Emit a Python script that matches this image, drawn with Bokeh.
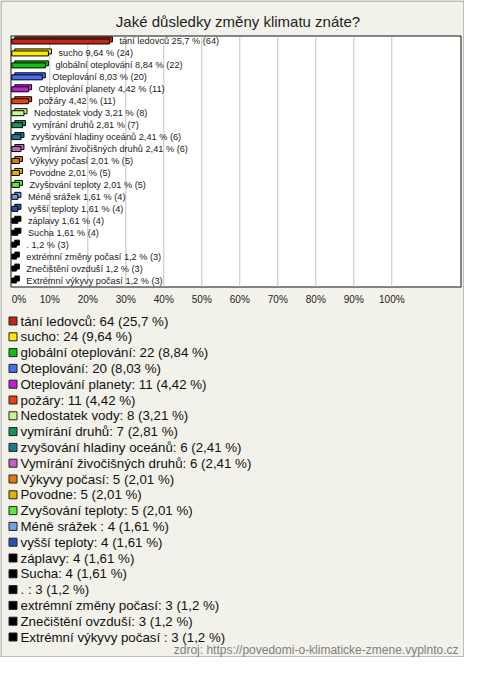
from bokeh.plotting import figure
from bokeh.models import Range1d, ColumnDataSource
from bokeh.core.properties import value
from bokeh.embed import file_html
from bokeh.resources import INLINE

# ---------------- data ----------------
title = "Jaké důsledky změny klimatu znáte?"
categories = [
    "tání ledovců", "sucho", "globální oteplování", "Oteplování",
    "Oteplování planety", "požáry", "Nedostatek vody", "vymírání druhů",
    "zvyšování hladiny oceánů", "Vymírání živočišných druhů", "Výkyvy počasí",
    "Povodne", "Zvyšování teploty", "Méně srážek ", "vyšší teploty", "záplavy",
    "Sucha", ". ", "extrémní změny počasí", "Znečištění ovzduší",
    "Extrémní výkyvy počasí ",
]
counts = [64, 24, 22, 20, 11, 11, 8, 7, 6, 6, 5, 5, 5, 4, 4, 4, 4, 3, 3, 3, 3]
percents = [25.7, 9.64, 8.84, 8.03, 4.42, 4.42, 3.21, 2.81, 2.41, 2.41, 2.01,
            2.01, 2.01, 1.61, 1.61, 1.61, 1.61, 1.2, 1.2, 1.2, 1.2]
colors = [
    "#c0261a", "#ffea00", "#12c012", "#4a6ef2", "#c21ed4", "#e44412",
    "#c8f890", "#13955e", "#1f7a8c", "#c064c0", "#e8780c", "#e6b200",
    "#5ee83e", "#72a0e2", "#2a52b8", "#000000", "#000000", "#000000",
    "#000000", "#000000", "#000000",
]
ticks = [0, 10, 20, 30, 40, 50, 60, 70, 80, 90, 100]
tick_labels = ["0%", "10%", "20%", "30%", "40%", "50%", "60%", "70%", "80%", "90%", "100%"]
source_text = "zdroj: https://povedomi-o-klimaticke-zmene.vyplnto.cz"

# ---------------- layout (canvas pixels) ----------------
W, H = 464, 657
BOX_L, BOX_R, BOX_T, BOX_B = 10.5, 460.5, 35.5, 286.5
X0, PX_PCT = 11.3, 3.8               # 0 % position, pixels per percent
ROW0, ROW_H = 35.0, 251.0 / 21       # bar rows
LEG_Y0, LEG_DY = 320.5, 15.8
BG = "#f2f1ea"
FONT = value("Liberation Sans")

p = figure(width=W, height=H, output_backend="svg", toolbar_location=None,
           x_axis_type=None, y_axis_type=None,
           x_range=Range1d(0, W), y_range=Range1d(H, 0),
           min_border=0, min_border_left=0, min_border_right=0,
           min_border_top=0, min_border_bottom=0)
p.outline_line_color = None
p.background_fill_color = BG
p.border_fill_color = BG
p.extra_x_ranges = {"pct": Range1d((0 - X0) / PX_PCT, (W - X0) / PX_PCT)}
p.extra_y_ranges = {"idx": Range1d((H - ROW0) / ROW_H - 0.5, (0 - ROW0) / ROW_H - 0.5)}

# outer frame
p.quad(left=[0.5], right=[W - 0.5], top=[0.5], bottom=[H - 0.5],
       fill_color=None, line_color="#8a8a8a", line_width=1)

# title
p.text(x=[237.5], y=[21], text=[title], text_align="center", text_baseline="middle",
       text_font=FONT, text_font_size="15px", text_color="#222222")

# plot box
p.quad(left=[BOX_L], right=[BOX_R], top=[BOX_T], bottom=[BOX_B],
       fill_color="white", line_color="#111111", line_width=1)

# grid lines
p.segment(x0=ticks[1:], x1=ticks[1:], y0=BOX_T + 0.5, y1=BOX_B - 0.5,
          x_range_name="pct", line_color="#c4c4c4", line_width=1)

# bars (pseudo-3D: back face + front face)
idx = list(range(len(categories)))
dx = 3.0 / PX_PCT
dy = 2.0 / ROW_H
bh = 5.0 / ROW_H
bars = ColumnDataSource(dict(
    y=idx, yb=[i - dy for i in idx], right=percents,
    rightb=[v + dx for v in percents], color=colors,
    label=[f"{c} {str(v).replace('.', ',')} % ({n})" for c, v, n in zip(categories, percents, counts)],
))
p.hbar(y="yb", left=dx, right="rightb", height=bh, source=bars,
       fill_color="color", line_color="black", line_width=1,
       x_range_name="pct", y_range_name="idx")
p.hbar(y="y", left=0, right="right", height=bh, source=bars,
       fill_color="color", line_color="black", line_width=1,
       x_range_name="pct", y_range_name="idx")
p.text(x="right", y="y", text="label", source=bars, x_offset=10,
       x_range_name="pct", y_range_name="idx",
       text_font=FONT, text_font_size="9.2px", text_baseline="middle",
       text_color="#222222")

# x tick labels
p.text(x=ticks[:1], y=299, text=tick_labels[:1], x_range_name="pct",
       text_align="left", text_baseline="middle",
       text_font=FONT, text_font_size="10px", text_color="#222222")
p.text(x=ticks[1:], y=299, text=tick_labels[1:], x_range_name="pct",
       text_align="center", text_baseline="middle",
       text_font=FONT, text_font_size="10px", text_color="#222222")

# legend list
leg = ColumnDataSource(dict(
    y=[LEG_Y0 + LEG_DY * i for i in idx], color=colors,
    label=[f"{c}: {n} ({str(v).replace('.', ',')} %)" for c, v, n in zip(categories, percents, counts)],
))
p.scatter(x=12.5, y="y", source=leg, marker="square", size=8,
          fill_color="color", line_color="#222222", line_width=1)
p.text(x=20, y="y", text="label", source=leg, text_baseline="middle",
       text_font=FONT, text_font_size="13.3px", text_color="#111111")

# source note
p.text(x=[458], y=[649], text=[source_text], text_align="right", text_baseline="middle",
       text_font=FONT, text_font_size="12px", text_color="#808080")

open("out.html", "w").write(file_html(p, INLINE))
